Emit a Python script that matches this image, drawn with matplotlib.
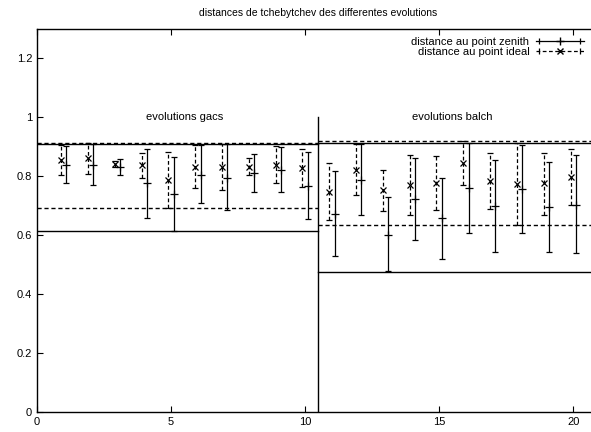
import numpy as np
import matplotlib.pyplot as plt
from matplotlib.lines import Line2D
from matplotlib.legend_handler import HandlerLine2D, HandlerTuple

plt.rcParams['font.family'] = ['Liberation Sans', 'DejaVu Sans']
plt.rcParams['font.size'] = 8

# evolution number
runs = np.arange(1, 21)

# distance au point ideal (x, dashed bars)
ideal = [0.855, 0.863, 0.843, 0.837, 0.787, 0.833, 0.833, 0.833, 0.838, 0.829,
         0.747, 0.823, 0.752, 0.772, 0.776, 0.846, 0.784, 0.775, 0.776, 0.797]
ideal_hi = [0.905, 0.914, 0.852, 0.880, 0.882, 0.905, 0.908, 0.863, 0.903, 0.894,
            0.846, 0.908, 0.823, 0.873, 0.869, 0.920, 0.878, 0.912, 0.880, 0.891]
ideal_lo = [0.806, 0.809, 0.831, 0.793, 0.694, 0.761, 0.753, 0.803, 0.776, 0.764,
            0.651, 0.735, 0.682, 0.670, 0.684, 0.772, 0.690, 0.635, 0.670, 0.701]

# distance au point zenith (+, solid bars)
zenith = [0.840, 0.840, 0.833, 0.778, 0.741, 0.806, 0.795, 0.812, 0.823, 0.767,
          0.673, 0.789, 0.602, 0.724, 0.659, 0.760, 0.699, 0.758, 0.696, 0.704]
zenith_hi = [0.903, 0.910, 0.860, 0.894, 0.867, 0.905, 0.908, 0.877, 0.899, 0.882,
             0.818, 0.908, 0.729, 0.863, 0.795, 0.912, 0.855, 0.907, 0.848, 0.873]
zenith_lo = [0.778, 0.770, 0.806, 0.659, 0.616, 0.708, 0.685, 0.746, 0.746, 0.656,
             0.529, 0.670, 0.477, 0.583, 0.521, 0.607, 0.543, 0.608, 0.544, 0.538]

# max / min levels per group (gacs, balch)
groups = ['evolutions gacs', 'evolutions balch']
group_x = [(0, 10.5), (10.5, 21)]
label_x = [5.5, 15.5]
zen_max = [0.910, 0.913]
zen_min = [0.616, 0.476]
ide_max = [0.913, 0.920]
ide_min = [0.694, 0.635]

ideal = np.array(ideal)
zenith = np.array(zenith)
dash = (0, (3, 2))

fig = plt.figure(figsize=(5.91, 4.32), dpi=100)
ax = fig.add_axes([37/591, 1 - 412/432, 563/591, 383/432])

eb = ax.errorbar(runs - 0.1, ideal,
                 yerr=[ideal - np.array(ideal_lo), np.array(ideal_hi) - ideal],
                 fmt='x', color='black', ms=5, mew=0.9, elinewidth=0.9,
                 capsize=2.5, capthick=0.9)
eb[2][0].set_linestyle(dash)
ax.errorbar(runs + 0.1, zenith,
            yerr=[zenith - np.array(zenith_lo), np.array(zenith_hi) - zenith],
            fmt='+', color='black', ms=6, mew=0.9, elinewidth=0.9,
            capsize=2.5, capthick=0.9)

for i in range(2):
    x0, x1 = group_x[i]
    ax.plot([x0, x1], [zen_max[i]] * 2, color='black', lw=1)
    ax.plot([x0, x1], [zen_min[i]] * 2, color='black', lw=1)
    ax.plot([x0, x1], [ide_max[i]] * 2, color='black', lw=1, ls=dash)
    ax.plot([x0, x1], [ide_min[i]] * 2, color='black', lw=1, ls=dash)
    ax.text(label_x[i], 1.0, groups[i], ha='center', va='center')

ax.plot([10.5, 10.5], [0, 1.0], color='black', lw=1)

ax.set_xlim(0, 21)
ax.set_ylim(0, 1.3)
ax.set_xticks([0, 5, 10, 15, 20])
ax.set_yticks([0, 0.2, 0.4, 0.6, 0.8, 1.0, 1.2])
ax.set_yticklabels(['0', '0.2', '0.4', '0.6', '0.8', '1', '1.2'])
ax.tick_params(direction='in', length=4, width=0.8, top=True, right=True)
for s in ax.spines.values():
    s.set_linewidth(1)

ax.set_title('distances de tchebytchev des differentes evolutions', fontsize=7.5, pad=9)

# legend samples: horizontal bar with end caps and marker in the middle
zen_line = Line2D([], [], color='black', lw=0.9, marker='+', ms=6)
ide_line = Line2D([], [], color='black', lw=0.9, marker='x', ms=4, ls=dash)
cap1 = Line2D([], [], color='black', lw=0, marker='|', ms=4, mew=0.9)
cap2 = Line2D([], [], color='black', lw=0, marker='|', ms=4, mew=0.9)
ax.legend([(zen_line, cap1), (ide_line, cap2)],
          ['distance au point zenith', 'distance au point ideal'],
          handler_map={tuple: HandlerTuple(ndivide=1, pad=0),
                       cap1: HandlerLine2D(numpoints=2),
                       cap2: HandlerLine2D(numpoints=2)},
          loc='upper right', bbox_to_anchor=(0.985, 1.0), frameon=False,
          markerfirst=False, handlelength=4.3, handletextpad=0.6,
          labelspacing=0.05, borderaxespad=0.3)

fig.savefig('out.png', dpi=100)
